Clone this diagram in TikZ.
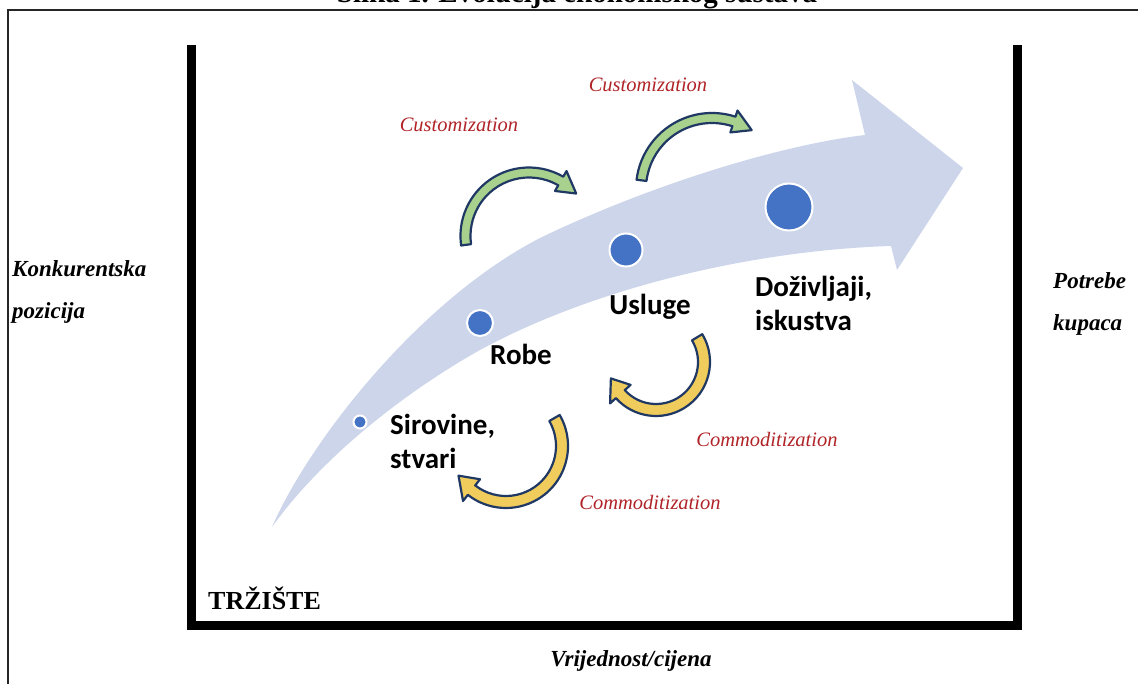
\documentclass[tikz,border=0pt]{standalone}
\usepackage{fontspec}
\setmainfont{Liberation Serif}
\newfontfamily\calibri{Carlito}
\usetikzlibrary{calc}

\definecolor{band}{RGB}{205,213,234}
\definecolor{dotblue}{RGB}{68,114,196}
\definecolor{navy}{RGB}{32,56,100}
\definecolor{leaf}{RGB}{169,209,142}
\definecolor{gold}{RGB}{240,204,92}
\definecolor{redtext}{RGB}{176,36,40}

% block arc: style, centre, radius, start, end, tip angle, half width
\newcommand{\blockarc}[7]{%
  \filldraw[#1] ($(#2)+(#4:#3+#7)$) arc[start angle=#4, end angle=#5, radius=#3+#7]
    -- ($(#2)+(#5:#3+2.3*#7)$) -- ($(#2)+(#6:#3)$) -- ($(#2)+(#5:#3-2.3*#7)$)
    -- ($(#2)+(#5:#3-#7)$) arc[start angle=#5, end angle=#4, radius=#3-#7] -- cycle;}

\begin{document}
\begin{tikzpicture}[x=1pt, y=-1pt]
  %
  \tikzstyle{dot} = [circle, fill=dotblue, draw=white, line width=2pt, inner sep=0pt]
  \tikzstyle{stage} = [font=\calibri\bfseries\fontsize{29}{34}\selectfont, align=left, inner sep=0pt]
  \tikzstyle{axis} = [font=\bfseries\itshape\fontsize{23}{42}\selectfont, align=left, inner sep=0pt]
  \tikzstyle{flow} = [font=\itshape\fontsize{20.5}{24}\selectfont, text=redtext, inner sep=0pt]
  \tikzstyle{arc} = [draw=navy, line width=2.2pt, line join=round]
  \useasboundingbox (0,0) rectangle (1138,684);
  % frame and title
  \draw[line width=2pt, black!85] (8,10) rectangle (1200,720);
  \node[font=\bfseries\fontsize{29}{34}\selectfont, anchor=base, inner sep=0pt] (title) at (577,3) {Slika 1. Evolucija ekonomskog sustava};
  \draw[line width=9pt, line join=miter] (191.5,45) -- (191.5,625) -- (1017.5,625) -- (1017.5,45);
  % big arrow
  \fill[band] (272,527) .. controls (310,440) and (420,300) .. (540,238)
    .. controls (650,185) and (780,145) .. (865,135) -- (852,80) -- (963,168) -- (897,270) -- (891,246)
    .. controls (760,250) and (600,285) .. (480,350) .. controls (400,395) and (320,460) .. cycle;
  % stages
  \node[dot, minimum size=13pt] (sirovine) at (360,422) {};
  \node[dot, minimum size=26pt] (robe) at (480,323) {};
  \node[dot, minimum size=33pt] (usluge) at (626,250) {};
  \node[dot, minimum size=47pt] (dozivljaji) at (789,207) {};
  \node[stage, anchor=west] (sirovineT) at (390,441) {Sirovine,\\stvari};
  \node[stage] (robeT) at (521,354) {Robe};
  \node[stage] (uslugeT) at (650,307) {Usluge};
  \node[stage, anchor=west] (dozivljajiT) at (755,303) {Doživljaji,\\iskustva};
  % customization / commoditization
  \blockarc{arc, fill=leaf}{529,236}{63.5}{172}{300}{318}{5}
  \blockarc{arc, fill=leaf}{712,189}{71}{187}{288}{304}{5}
  \blockarc{arc, fill=gold}{656,362}{48}{-31}{138}{160}{6}
  \blockarc{arc, fill=gold}{506,446}{56}{-30}{128}{148}{6}
  \node[flow] (cust1) at (459,125) {Customization};
  \node[flow] (cust2) at (648,85) {Customization};
  \node[flow] (comm1) at (767,439) {Commoditization};
  \node[flow] (comm2) at (650,502) {Commoditization};
  % axes
  \node[axis, anchor=west] (konk) at (12,292) {Konkurentska\\pozicija};
  \node[axis, anchor=west] (potrebe) at (1053,304) {Potrebe\\kupaca};
  \node[font=\bfseries\fontsize{26}{30}\selectfont, anchor=west, inner sep=0pt] (trziste) at (208,598) {TRŽIŠTE};
  \node[axis] (vrijednost) at (631,661) {Vrijednost/cijena};
\end{tikzpicture}
\end{document}
